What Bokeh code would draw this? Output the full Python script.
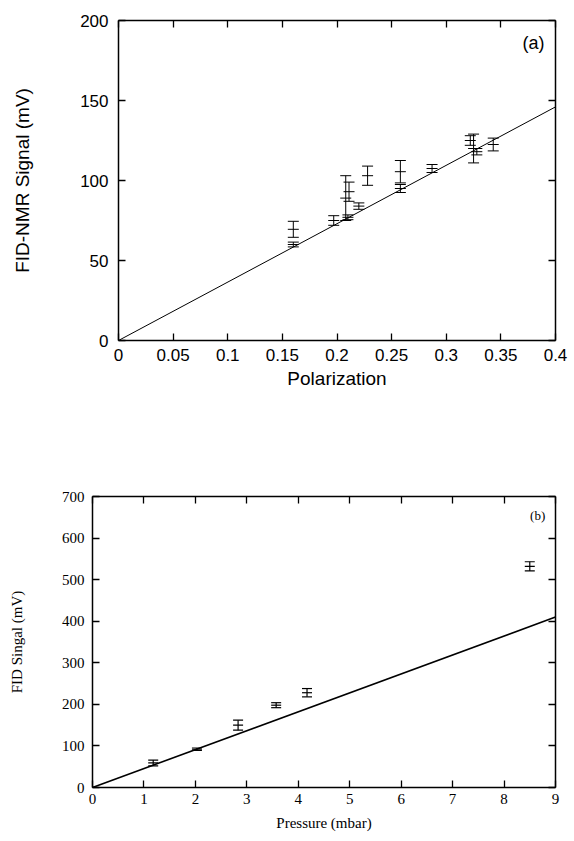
from bokeh.plotting import figure
from bokeh.models import ColumnDataSource, Whisker, TeeHead, LinearAxis, FixedTicker, Range1d, Label, CustomJSTickFormatter
from bokeh.embed import file_html
from bokeh.resources import INLINE

# ---- data (a) ----
pol_x = [0.160, 0.160, 0.197, 0.208, 0.211, 0.210, 0.220, 0.228, 0.258, 0.258, 0.287, 0.322, 0.325, 0.328, 0.343]
pol_y = [69.5, 60.0, 75.0, 89.0, 93.0, 77.0, 84.0, 103.0, 105.5, 95.0, 107.5, 125.0, 120.0, 118.0, 122.5]
pol_err = [5.0, 1.5, 3.0, 14.0, 6.0, 1.5, 2.0, 6.0, 7.0, 2.5, 2.5, 3.0, 9.0, 2.0, 4.0]
fit_a_x = [0.0, 0.4]
fit_a_y = [0.0, 146.0]
ticks_a_x = [0, 0.05, 0.1, 0.15, 0.2, 0.25, 0.3, 0.35, 0.4]
ticks_a_y = [0, 50, 100, 150, 200]

# ---- data (b) ----
pres_x = [1.18, 2.03, 2.83, 3.57, 4.17, 8.50]
pres_y = [59.0, 92.0, 150.0, 198.0, 228.0, 532.0]
pres_err = [7.0, 3.0, 12.0, 6.0, 10.0, 11.0]
fit_b_x = [0.0, 9.0]
fit_b_y = [0.0, 410.0]
ticks_b_x = list(range(0, 10))
ticks_b_y = list(range(0, 701, 100))


def box_axes(p, xt, yt, font, size, label_size, xlabel, ylabel):
    xa = p.below[0]
    ya = p.left[0]
    xa.ticker = FixedTicker(ticks=xt)
    ya.ticker = FixedTicker(ticks=yt)
    xa.axis_label = xlabel
    ya.axis_label = ylabel
    for ax in (xa, ya):
        ax.major_tick_in = 7
        ax.major_tick_out = 0
        ax.minor_tick_line_color = None
        ax.axis_line_width = 1.5
        ax.major_tick_line_width = 1.3
        ax.major_label_text_font = font
        ax.major_label_text_font_size = size
        ax.major_label_text_color = "black"
        ax.axis_label_text_font = font
        ax.axis_label_text_font_size = label_size
        ax.axis_label_text_font_style = "normal"
        ax.axis_label_text_color = "black"
    for loc, tk in (("above", xt), ("right", yt)):
        ax = LinearAxis(ticker=FixedTicker(ticks=tk),
                        formatter=CustomJSTickFormatter(code="return ''"))
        ax.major_tick_in = 7
        ax.major_tick_out = 0
        ax.minor_tick_line_color = None
        ax.axis_line_width = 1.5
        ax.major_tick_line_width = 1.3
        ax.major_label_standoff = 0
        p.add_layout(ax, loc)
    p.grid.visible = False
    p.outline_line_color = None
    return xa, ya


# ---------- figure (a) ----------
pa = figure(width=574, height=430, output_backend="svg", toolbar_location=None,
            x_range=Range1d(0, 0.4), y_range=Range1d(0, 200),
            min_border_left=118, min_border_right=19, min_border_top=20, min_border_bottom=90)
xa, ya = box_axes(pa, ticks_a_x, ticks_a_y, "Liberation Sans", "17px", "19px",
                  "Polarization", "FID-NMR Signal (mV)")
xa.major_label_standoff = 8
xa.axis_label_standoff = 4
ya.major_label_standoff = 10
ya.axis_label_standoff = 44
xa.formatter.use_scientific = False

pa.line(fit_a_x, fit_a_y, line_color="black", line_width=1)
src_a = ColumnDataSource(dict(x=pol_x, y=pol_y,
                              lo=[y - e for y, e in zip(pol_y, pol_err)],
                              up=[y + e for y, e in zip(pol_y, pol_err)]))
pa.add_layout(Whisker(base="x", upper="up", lower="lo", source=src_a, dimension="height",
                      line_color="black", line_width=1,
                      upper_head=TeeHead(size=11, line_color="black", line_width=1),
                      lower_head=TeeHead(size=11, line_color="black", line_width=1)))
pa.scatter("x", "y", source=src_a, marker="dash", size=11, line_color="black", line_width=1)
pa.add_layout(Label(x=0.39, y=186, text="(a)", text_font="Liberation Sans", text_font_size="18px",
                    text_align="right", text_baseline="middle", text_color="black"))

# ---------- figure (b) ----------
pb = figure(width=574, height=411, output_backend="svg", toolbar_location=None,
            x_range=Range1d(0, 9), y_range=Range1d(0, 700),
            min_border_left=92, min_border_right=19, min_border_top=66, min_border_bottom=54)
xb, yb = box_axes(pb, ticks_b_x, ticks_b_y, "Liberation Serif", "15px", "15px",
                  "Pressure (mbar)", "FID Singal (mV)")
xb.major_label_standoff = 6
xb.axis_label_standoff = 8
yb.major_label_standoff = 8
yb.axis_label_standoff = 34

pb.line(fit_b_x, fit_b_y, line_color="black", line_width=1.6)
src_b = ColumnDataSource(dict(x=pres_x, y=pres_y,
                              lo=[y - e for y, e in zip(pres_y, pres_err)],
                              up=[y + e for y, e in zip(pres_y, pres_err)]))
pb.add_layout(Whisker(base="x", upper="up", lower="lo", source=src_b, dimension="height",
                      line_color="black", line_width=1.2,
                      upper_head=TeeHead(size=10, line_color="black", line_width=1.2),
                      lower_head=TeeHead(size=10, line_color="black", line_width=1.2)))
pb.scatter("x", "y", source=src_b, marker="dash", size=10, line_color="black", line_width=1.2)
pb.add_layout(Label(x=8.8, y=655, text="(b)", text_font="Liberation Serif", text_font_size="13px",
                    text_align="right", text_baseline="middle", text_color="black"))

open("out.html", "w").write(file_html([pa, pb], INLINE))
